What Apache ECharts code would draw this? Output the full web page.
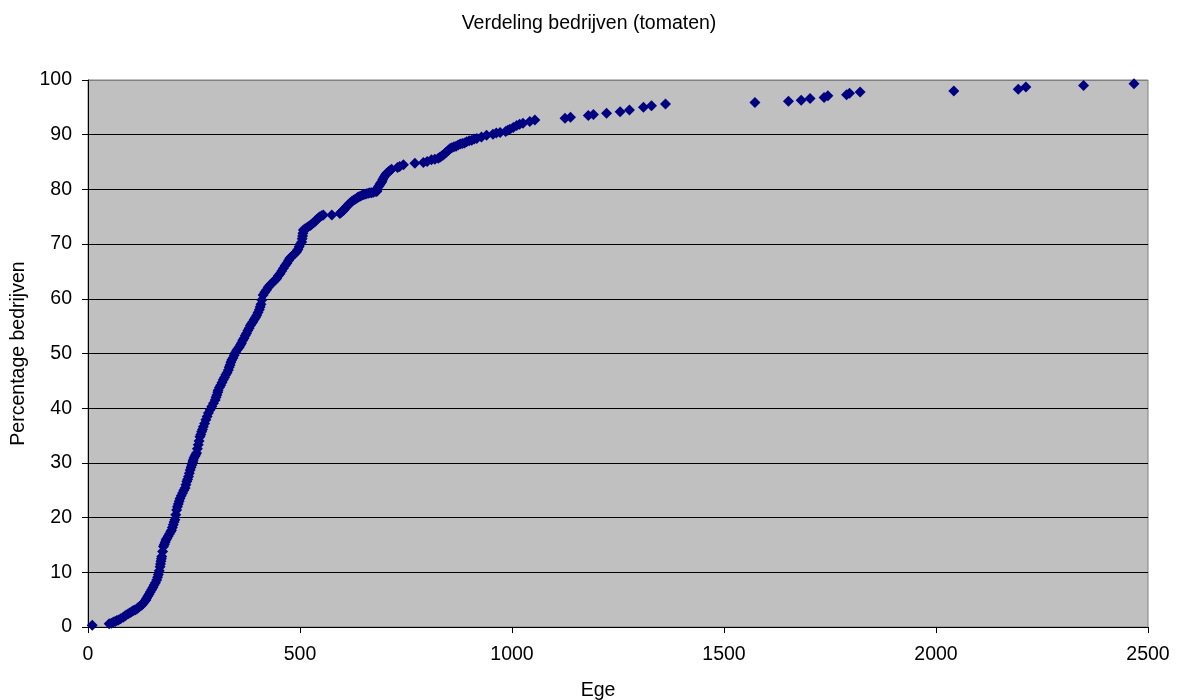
<!DOCTYPE html>
<html>
<head>
<meta charset="utf-8">
<script src="https://cdn.jsdelivr.net/npm/echarts@6/dist/echarts.min.js"></script>
<style>
html,body{margin:0;padding:0;background:#fff;}
#chart{width:1178px;height:700px;}
</style>
</head>
<body>
<div id="chart"></div>
<script>
const titleText = 'Verdeling bedrijven (tomaten)';
const xAxisName = 'Ege';
const yAxisName = 'Percentage bedrijven';

const egeValues = [
  10, 50, 55, 60, 64, 68, 72, 77, 83, 87, 90, 95, 99, 103, 107, 111, 115, 118, 121, 124,
  127, 130, 133, 136, 138, 141, 144, 147, 150, 153, 156, 159, 162, 164, 166, 168, 170, 171, 172, 173,
  174, 176, 178, 180, 182, 184, 186, 189, 192, 195, 197, 199, 201, 203, 205, 207, 209, 211, 213, 215,
  217, 220, 223, 226, 229, 231, 233, 235, 237, 239, 241, 243, 245, 247, 248, 250, 252, 254, 256, 258,
  260, 262, 264, 266, 268, 270, 272, 275, 278, 281, 284, 288, 292, 296, 300, 302, 304, 306, 307, 310,
  313, 316, 319, 322, 325, 328, 331, 333, 335, 337, 339, 342, 345, 348, 351, 354, 357, 360, 362, 365,
  368, 371, 374, 377, 380, 383, 386, 389, 392, 395, 398, 401, 404, 406, 408, 410, 413, 417, 421, 425,
  429, 433, 437, 441, 445, 449, 453, 457, 461, 465, 469, 473, 476, 480, 484, 488, 492, 495, 498, 501,
  504, 505, 506, 507, 508, 512, 516, 520, 524, 527, 530, 533, 535, 538, 541, 544, 547, 551, 555, 575,
  594, 597, 600, 603, 606, 609, 612, 615, 618, 622, 626, 630, 634, 637, 641, 645, 649, 653, 657, 661,
  665, 669, 673, 677, 681, 683, 685, 687, 689, 691, 693, 695, 698, 701, 704, 707, 710, 713, 716, 730,
  735, 744, 771, 791, 800, 810, 818, 826, 830, 834, 838, 842, 845, 848, 851, 854, 858, 863, 868, 873,
  878, 883, 888, 893, 899, 905, 911, 917, 928, 940, 955, 963, 972, 985, 990, 995, 1003, 1011, 1018, 1026,
  1042, 1054,
  1125, 1138, 1180, 1192, 1223, 1255, 1277, 1310, 1329, 1362, 1573, 1652, 1682, 1703, 1736, 1745, 1789, 1796, 1821,
  2042, 2194, 2212, 2348, 2467
];
const pctValues = [
  0.3, 0.6, 0.7, 0.9, 1.0, 1.2, 1.3, 1.5, 1.8, 2.0, 2.2, 2.4, 2.6, 2.8, 3.0, 3.1, 3.3, 3.5, 3.7, 3.9,
  4.0, 4.3, 4.6, 4.9, 5.2, 5.6, 6.0, 6.4, 6.8, 7.2, 7.7, 8.1, 8.6, 9.1, 9.6, 10.3, 11.0, 11.5, 12.0, 12.5,
  12.9, 13.8, 14.7, 15.1, 15.5, 15.9, 16.2, 16.6, 17.0, 17.4, 17.7, 18.2, 18.7, 19.2, 19.6, 20.5, 21.4, 22.0, 22.5, 23.0,
  23.5, 24.0, 24.5, 25.0, 25.4, 26.0, 26.6, 27.0, 27.5, 28.1, 28.7, 29.2, 29.6, 30.1, 30.5, 30.9, 31.2, 31.5, 31.8, 32.6,
  33.3, 34.0, 34.8, 35.2, 35.7, 36.1, 36.6, 37.2, 37.9, 38.5, 39.1, 39.7, 40.3, 40.9, 41.5, 42.0, 42.4, 42.9, 43.3, 43.8,
  44.2, 44.7, 45.2, 45.6, 46.1, 46.5, 47.0, 47.5, 47.9, 48.4, 48.8, 49.2, 49.7, 50.2, 50.6, 50.9, 51.2, 51.6, 51.9, 52.4,
  52.8, 53.3, 53.7, 54.2, 54.6, 55.1, 55.5, 55.8, 56.2, 56.6, 57.0, 57.5, 58.0, 58.5, 59.0, 59.8, 60.7, 61.2, 61.6, 62.1,
  62.5, 62.8, 63.1, 63.4, 63.7, 64.2, 64.6, 65.1, 65.6, 66.1, 66.5, 67.0, 67.4, 67.7, 68.0, 68.3, 68.6, 69.0, 69.5, 70.0,
  70.4, 71.0, 71.5, 72.0, 72.6, 72.8, 73.0, 73.2, 73.4, 73.6, 73.8, 74.0, 74.1, 74.4, 74.6, 74.8, 75.0, 75.2, 75.3, 75.3,
  75.6, 75.8, 76.0, 76.2, 76.5, 76.8, 77.0, 77.3, 77.5, 77.8, 78.0, 78.2, 78.4, 78.6, 78.7, 78.9, 79.0, 79.1, 79.2, 79.3,
  79.4, 79.4, 79.5, 79.6, 79.6, 80.0, 80.5, 80.7, 81.0, 81.2, 81.4, 81.8, 82.2, 82.6, 82.9, 83.1, 83.3, 83.5, 83.7, 84.0,
  84.2, 84.5, 84.8, 84.9, 85.1, 85.4, 85.5, 85.7, 85.9, 86.1, 86.3, 86.6, 86.8, 87.0, 87.2, 87.5, 87.6, 87.8, 87.9, 88.1,
  88.3, 88.4, 88.5, 88.7, 88.9, 89.0, 89.2, 89.3, 89.6, 89.9, 90.1, 90.3, 90.4, 90.6, 90.8, 91.0, 91.3, 91.7, 91.9, 92.1,
  92.4, 92.7,
  93.0, 93.2, 93.5, 93.7, 93.9, 94.2, 94.5, 95.0, 95.3, 95.6, 95.9, 96.1, 96.3, 96.6, 96.8, 97.1, 97.3, 97.6, 97.8,
  98.0, 98.3, 98.7, 99.0, 99.3
];

const xMin = 0, xMax = 2500, xStep = 500;
const yMin = 0, yMax = 100, yStep = 10;

const points = egeValues.map((v, i) => [v, pctValues[i]]);
const splitColors = [];
for (let v = yMin; v <= yMax; v += yStep) splitColors.push(v === yMax ? '#808080' : '#000000');

const FONT = 'Liberation Sans, Arial, sans-serif';
const chart = echarts.init(document.getElementById('chart'), null, {renderer: 'canvas'});
chart.setOption({
  animation: false,
  backgroundColor: '#ffffff',
  textStyle: {fontFamily: FONT},
  title: {
    text: titleText,
    left: 'center',
    top: 9,
    textStyle: {fontFamily: FONT, fontSize: 19.5, fontWeight: 'normal', color: '#000'}
  },
  grid: {
    left: 88, right: 30, top: 80, bottom: 73,
    containLabel: false,
    outerBoundsMode: 'none',
    show: true,
    backgroundColor: '#C0C0C0',
    borderColor: '#808080',
    borderWidth: 1
  },
  xAxis: {
    type: 'value',
    min: xMin, max: xMax, interval: xStep,
    name: xAxisName,
    nameLocation: 'middle',
    nameGap: 54,
    nameTextStyle: {fontFamily: FONT, fontSize: 19.5, color: '#000', padding: [0, 40, 0, 0]},
    axisLine: {show: true, onZero: false, lineStyle: {color: '#000', width: 1}},
    axisTick: {show: true, inside: false, length: 6, lineStyle: {color: '#000'}},
    axisLabel: {fontFamily: FONT, fontSize: 19.5, color: '#000', margin: 18, formatter: v => String(v)},
    splitLine: {show: false}
  },
  yAxis: {
    type: 'value',
    min: yMin, max: yMax, interval: yStep,
    name: yAxisName,
    nameLocation: 'middle',
    nameGap: 56,
    nameRotate: 90,
    nameTextStyle: {fontFamily: FONT, fontSize: 19.5, color: '#000'},
    axisLine: {show: true, lineStyle: {color: '#000', width: 1}},
    axisTick: {show: true, inside: false, length: 6, lineStyle: {color: '#000'}},
    axisLabel: {fontFamily: FONT, fontSize: 19.5, color: '#000', margin: 16, formatter: v => String(v)},
    splitLine: {show: true, lineStyle: {color: splitColors, width: 1}}
  },
  series: [{
    type: 'scatter',
    data: points,
    symbol: 'diamond',
    symbolSize: 11,
    itemStyle: {color: '#000080', opacity: 1},
    emphasis: {disabled: true}
  }]
});
</script>
</body>
</html>
